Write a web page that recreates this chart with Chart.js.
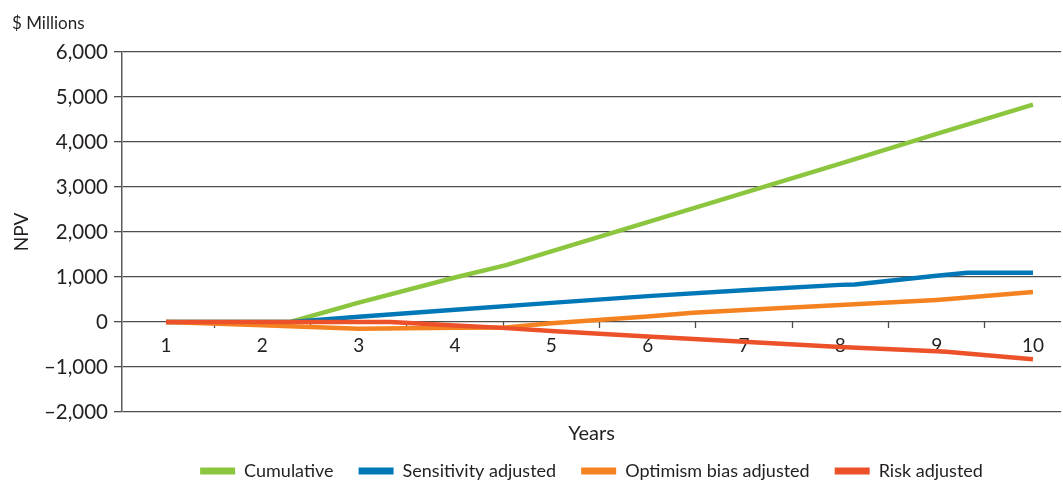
<!DOCTYPE html>
<html>
<head>
<meta charset="utf-8">
<title>NPV over ten years</title>
<script src="https://cdn.jsdelivr.net/npm/chart.js@4/dist/chart.umd.min.js"></script>
<style>
  html, body { margin: 0; padding: 0; background: #ffffff; }
  canvas { display: block; }
</style>
</head>
<body>
<canvas id="npvChart" width="1063" height="481"></canvas>
<script>
// Year labels along the horizontal axis
const yearLabels = [1, 2, 3, 4, 5, 6, 7, 8, 9, 10];

// Y axis range and step ($ millions)
const yMin = -2000;
const yMax = 6000;
const yStep = 1000;

// Cumulative NPV
const cumulativeYears = [1, 2, 2.29, 3, 4, 4.54, 5, 6, 7, 8, 9, 10];
const cumulativeNpv   = [0, 0, 0, 430, 990, 1270, 1570, 2220, 2870, 3520, 4180, 4830];

// Sensitivity adjusted NPV
const sensitivityYears = [1, 2, 2.3, 3, 4, 5, 6, 7, 8, 8.15, 9, 9.32, 10];
const sensitivityNpv   = [0, 0, 0, 115, 270, 425, 575, 705, 825, 835, 1030, 1095, 1095];

// Optimism bias adjusted NPV
const optimismYears = [1, 2, 3, 4, 4.5, 5, 6, 6.47, 7, 8, 9, 9.1, 10];
const optimismNpv   = [0, -70, -150, -130, -125, -30, 120, 205, 265, 380, 490, 505, 665];

// Risk adjusted NPV
const riskYears = [1, 2, 3, 3.33, 4, 4.45, 5, 6, 7, 8, 9, 9.1, 10];
const riskNpv   = [0, 0, 0, 0, -80, -125, -200, -320, -440, -555, -650, -660, -830];

const seriesNames = ['Cumulative', 'Sensitivity adjusted', 'Optimism bias adjusted', 'Risk adjusted'];
const seriesColors = ['#8cc63f', '#0077b6', '#f58220', '#ec5129'];

const toPoints = (xs, ys) => xs.map((x, i) => ({ x: x, y: ys[i] }));

const inkColor = '#231f20';
const gridColor = '#4d4d4d';
Chart.defaults.font.family = 'Lato, "Open Sans", sans-serif';
Chart.defaults.color = inkColor;

// Tick marks sit halfway between the year labels
const xTickValues = [];
yearLabels.forEach((y, i) => {
  xTickValues.push(y);
  if (i < yearLabels.length - 1) xTickValues.push(y + 0.5);
});

const fmtNpv = (v) => {
  const s = Math.abs(v).toLocaleString('en-US');
  return v < 0 ? '\u2013' + s : s;
};

// Keep the legend compact vertically while its items stay widely spaced
const legendHeight = {
  id: 'legendHeight',
  beforeInit(chart) {
    const legend = chart.legend;
    const baseFit = legend.fit;
    legend.fit = function () {
      baseFit.call(this);
      this.height = 44;
    };
  }
};

const lineDataset = (idx, xs, ys, order) => ({
  label: seriesNames[idx],
  data: toPoints(xs, ys),
  borderColor: seriesColors[idx],
  backgroundColor: seriesColors[idx],
  borderWidth: 4.5,
  pointRadius: 0,
  pointHoverRadius: 0,
  tension: 0,
  fill: false,
  order: order
});

new Chart(document.getElementById('npvChart'), {
  type: 'line',
  data: {
    datasets: [
      lineDataset(0, cumulativeYears, cumulativeNpv, 3),
      lineDataset(1, sensitivityYears, sensitivityNpv, 2),
      lineDataset(2, optimismYears, optimismNpv, 1),
      lineDataset(3, riskYears, riskNpv, 0)
    ]
  },
  options: {
    responsive: false,
    animation: false,
    layout: { padding: { left: 12, right: 2, top: 0, bottom: 0 } },
    plugins: {
      tooltip: { enabled: false },
      title: {
        display: true,
        text: '$ Millions',
        align: 'start',
        color: inkColor,
        font: { size: 17, weight: 'normal', lineHeight: 1.2 },
        padding: { top: 13, bottom: 18.6 }
      },
      legend: {
        position: 'bottom',
        fullSize: false,
        labels: {
          boxWidth: 35,
          boxHeight: 7,
          padding: 25,
          color: inkColor,
          font: { size: 18 },
          sort: (a, b) => a.datasetIndex - b.datasetIndex,
          generateLabels: (chart) =>
            Chart.defaults.plugins.legend.labels.generateLabels(chart)
              .map(item => Object.assign(item, { lineWidth: 0 }))
        }
      }
    },
    scales: {
      x: {
        type: 'linear',
        position: { y: 0 },
        min: 0.5432,
        max: 10.291,
        afterBuildTicks: (scale) => {
          scale.ticks = xTickValues.map(v => ({ value: v }));
        },
        ticks: {
          autoSkip: false,
          maxRotation: 0,
          padding: 6,
          color: inkColor,
          font: { size: 19 },
          callback: (v) => Number.isInteger(v) ? String(v) : ''
        },
        grid: {
          drawOnChartArea: false,
          drawTicks: true,
          tickLength: 6,
          tickWidth: 1.3,
          tickColor: (ctx) => (ctx.tick && Number.isInteger(ctx.tick.value)) ? 'rgba(0,0,0,0)' : gridColor
        },
        border: { display: false },
        title: {
          display: true,
          text: 'Years',
          color: inkColor,
          font: { size: 20 },
          padding: { top: 59, bottom: 0 }
        }
      },
      gap: {
        // spacer between the plot and the legend
        type: 'linear',
        axis: 'x',
        position: 'bottom',
        display: true,
        ticks: { display: false },
        grid: { display: false, drawTicks: false },
        border: { display: false },
        afterFit: (scale) => { scale.height = 25; }
      },
      y: {
        min: yMin,
        max: yMax,
        afterFit: (scale) => { scale.width = 110; },
        ticks: {
          stepSize: yStep,
          padding: 6,
          color: inkColor,
          font: { size: 20.5 },
          callback: (v) => fmtNpv(v)
        },
        grid: {
          color: gridColor,
          lineWidth: 1.3,
          drawTicks: true,
          tickLength: 8,
          tickColor: gridColor
        },
        border: { display: true, color: '#5a5a5a', width: 1.5 },
        title: {
          display: true,
          text: 'NPV',
          color: inkColor,
          font: { size: 19, lineHeight: 1 },
          padding: { top: 0, bottom: 0 }
        }
      }
    }
  },
  plugins: [legendHeight]
});
</script>
</body>
</html>
